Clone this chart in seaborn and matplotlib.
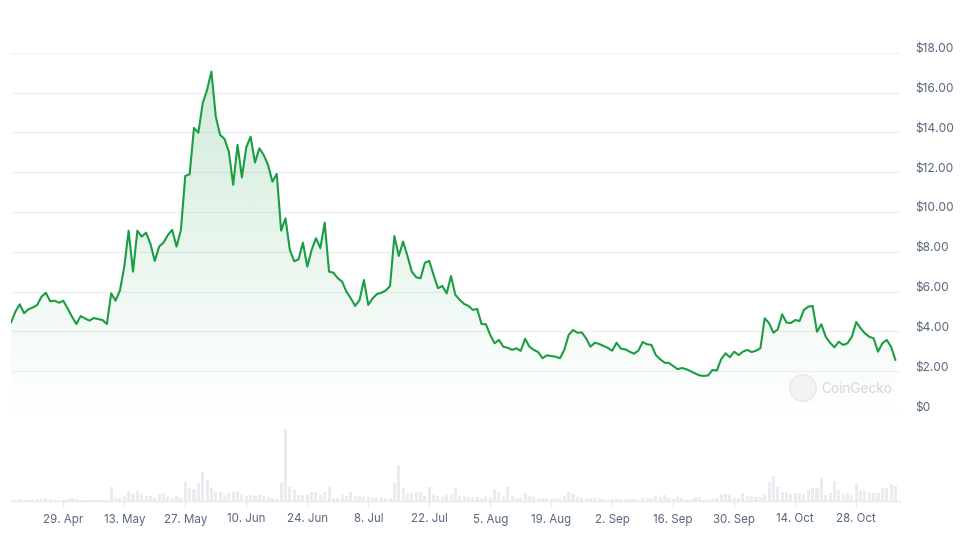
import numpy as np
import pandas as pd
import matplotlib
matplotlib.use("Agg")
import matplotlib.pyplot as plt
import matplotlib.dates as mdates
import matplotlib.transforms as mtransforms
from matplotlib.patches import Circle
import seaborn as sns

# daily close price (USD)
start_date = "2024-04-17"
prices = [
    4.44, 4.99, 5.36, 4.91, 5.11, 5.20, 5.32, 5.74, 5.94, 5.51,
    5.54, 5.44, 5.54, 5.15, 4.74, 4.37, 4.77, 4.65, 4.54, 4.67,
    4.62, 4.57, 4.37, 5.91, 5.54, 6.05, 7.25, 9.06, 7.00, 9.06,
    8.76, 8.96, 8.40, 7.54, 8.26, 8.46, 8.84, 9.10, 8.26, 9.10,
    11.81, 11.89, 14.22, 13.98, 15.46, 16.13, 17.05, 14.79, 13.87, 13.67,
    13.03, 11.36, 13.37, 11.74, 13.25, 13.78, 12.48, 13.20, 12.86, 12.36,
    11.52, 11.91, 9.06, 9.68, 8.09, 7.52, 7.62, 8.46, 7.25, 8.09,
    8.68, 8.18, 9.46, 7.00, 6.95, 6.67, 6.50, 5.99, 5.66, 5.28,
    5.58, 6.58, 5.33, 5.66, 5.88, 5.94, 6.05, 6.28, 8.79, 7.79,
    8.51, 7.79, 7.00, 6.72, 6.67, 7.45, 7.54, 6.83, 6.17, 6.28,
    5.91, 6.78, 5.83, 5.58, 5.38, 5.28, 5.08, 5.13, 4.37, 4.36,
    3.82, 3.40, 3.57, 3.23, 3.18, 3.07, 3.15, 3.02, 3.63, 3.23,
    3.07, 2.96, 2.65, 2.80, 2.76, 2.73, 2.65, 3.07, 3.82, 4.07,
    3.93, 3.95, 3.65, 3.23, 3.43, 3.37, 3.27, 3.17, 3.03, 3.43,
    3.13, 3.10, 2.98, 2.88, 3.03, 3.47, 3.35, 3.32, 2.81, 2.60,
    2.43, 2.41, 2.26, 2.10, 2.16, 2.10, 2.00, 1.89, 1.79, 1.76,
    1.79, 2.06, 2.03, 2.60, 2.90, 2.70, 2.98, 2.81, 2.98, 3.07,
    2.96, 3.03, 3.15, 4.66, 4.41, 3.93, 4.10, 4.86, 4.44, 4.42,
    4.57, 4.52, 5.08, 5.24, 5.28, 3.98, 4.36, 3.73, 3.43, 3.20,
    3.48, 3.32, 3.40, 3.73, 4.47, 4.16, 3.90, 3.73, 3.65, 2.98,
    3.40, 3.57, 3.23, 2.56,
]

# daily trading volume (relative units)
volumes = [
    3, 4, 6, 4, 4, 4, 5, 7, 10, 7,
    4, 4, 3, 5, 8, 6, 4, 4, 4, 4,
    4, 3, 3, 43, 8, 10, 14, 30, 22, 30,
    22, 14, 14, 10, 20, 25, 12, 10, 16, 10,
    58, 38, 35, 55, 88, 64, 40, 28, 28, 18,
    24, 26, 30, 20, 14, 18, 16, 18, 14, 12,
    8, 6, 55, 215, 42, 35, 18, 18, 18, 28,
    28, 18, 28, 45, 10, 10, 20, 16, 26, 16,
    16, 12, 12, 8, 8, 12, 10, 8, 55, 108,
    38, 25, 25, 26, 26, 16, 42, 20, 15, 12,
    22, 20, 38, 15, 15, 12, 12, 12, 10, 14,
    12, 35, 28, 15, 42, 15, 8, 10, 25, 14,
    12, 10, 10, 8, 6, 8, 8, 15, 28, 20,
    12, 10, 8, 10, 10, 8, 6, 4, 6, 6,
    6, 6, 6, 6, 4, 10, 10, 10, 15, 12,
    18, 8, 6, 12, 10, 4, 4, 10, 12, 4,
    4, 6, 8, 20, 22, 22, 10, 10, 25, 15,
    15, 12, 12, 22, 58, 75, 42, 28, 28, 22,
    25, 25, 20, 32, 38, 38, 70, 18, 25, 60,
    32, 20, 25, 18, 52, 32, 30, 28, 25, 25,
    38, 38, 52, 45,
]

tick_dates = pd.date_range("2024-04-29", periods=14, freq="14D")
price_ticks = [0, 2, 4, 6, 8, 10, 12, 14, 16, 18]

df = pd.DataFrame({
    "date": pd.date_range(start_date, periods=len(prices), freq="D"),
    "price": prices,
    "volume": volumes,
})

sns.set_theme(style="white")
plt.rcParams["font.family"] = ["Inter", "DejaVu Sans"]

GREEN = "#1b9d44"
LABEL = "#58667e"
GRID = "#eef0f3"

fig = plt.figure(figsize=(9.72, 5.4), dpi=100)
ax = fig.add_axes([11 / 972, 1 - 411 / 540, 889 / 972, 358.3 / 540])
axv = fig.add_axes([11 / 972, 1 - 501 / 540, 889 / 972, 72 / 540], sharex=ax)

x0 = mdates.date2num(df["date"].iloc[0])
xlim = (x0, x0 + 204.05)

# gradient fill under the price line
poly = ax.fill_between(df["date"], df["price"], 0, color="none", lw=0)
grad = np.zeros((256, 1, 4))
grad[..., :3] = matplotlib.colors.to_rgb(GREEN)
grad[:, 0, 3] = np.linspace(0.2, 0.0, 256)
img = ax.imshow(grad, extent=[xlim[0], xlim[1], 0, max(prices)],
                aspect="auto", origin="upper", zorder=1)
img.set_clip_path(poly.get_paths()[0], transform=ax.transData)

sns.lineplot(data=df, x="date", y="price", ax=ax, color=GREEN, lw=1.5, zorder=3)

ax.set_xlim(*xlim)
ax.set_ylim(0, 18)
ax.set_yticks(price_ticks)
ax.set_yticklabels(["$0" if v == 0 else f"${v:.2f}" for v in price_ticks])
ax.yaxis.tick_right()
ax.tick_params(axis="y", length=0, pad=11, labelsize=8.6, labelcolor=LABEL)
offset = mtransforms.ScaledTranslation(0, 5 / 100, fig.dpi_scale_trans)
for lab in ax.get_yticklabels():
    lab.set_transform(lab.get_transform() + offset)
ax.grid(axis="y", color=GRID, lw=1)
ax.grid(axis="x", visible=False)
ax.tick_params(axis="x", length=0, labelbottom=False)
ax.set_xlabel("")
ax.set_ylabel("")
for s in ax.spines.values():
    s.set_visible(False)

# volume bars
axv.bar(df["date"], df["volume"], width=0.7, color="#e9ecf1", lw=0)
axv.set_ylim(0, 216)
axv.set_yticks([])
axv.set_xticks(tick_dates)
axv.set_xticklabels([f"{d.day}. {d.strftime('%b')}" for d in tick_dates])
axv.tick_params(axis="x", bottom=True, length=4, width=1, color="#e8eaee",
                pad=5, labelsize=8.3, labelcolor=LABEL)
axv.set_xlim(*xlim)
axv.grid(False)
for side in ["top", "left", "right"]:
    axv.spines[side].set_visible(False)
axv.spines["bottom"].set_color("#e8eaee")
axv.spines["bottom"].set_linewidth(1)

# watermark
fig.patches.append(Circle((8.03, 1.52), 0.13, transform=fig.dpi_scale_trans,
                          facecolor="#f3f3f3", edgecolor="#e8e8e8", lw=1.2, zorder=5))
fig.text(821 / 972, 1 - 389 / 540, "CoinGecko", fontsize=9.8, color="#d3d6da",
         va="center", ha="left", zorder=6)

fig.savefig("out.png", dpi=100)
